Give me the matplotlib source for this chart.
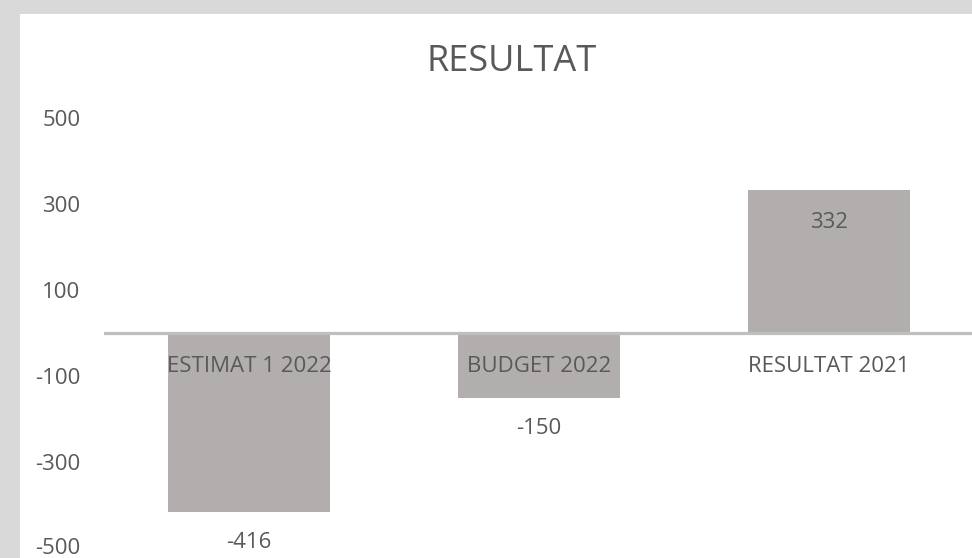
import matplotlib.pyplot as plt

categories = ['ESTIMAT 1 2022', 'BUDGET 2022', 'RESULTAT 2021']
values = [-416, -150, 332]
yticks = [-500, -300, -100, 100, 300, 500]

txt = '#595959'
plt.rcParams['font.family'] = ['Open Sans', 'DejaVu Sans']

fig = plt.figure(figsize=(9.72, 5.58), dpi=100, facecolor='#d9d9d9')
# white chart panel behind the axes
fig.patches.append(plt.Rectangle((20/972, 0), 1, 1 - 14/558, transform=fig.transFigure,
                                 facecolor='white', edgecolor='none', zorder=-5))

ax = fig.add_axes([104/972, 1 - 548/558, 870/972, 430/558])
ax.set_facecolor('none')
x = range(len(categories))
ax.bar(x, values, width=0.56, color='#b3aeae', zorder=1)
ax.axhline(0, color='#bfbfbf', lw=2.3, zorder=2)

ax.set_xlim(-0.5, 2.5)
ax.set_ylim(-500, 500)
ax.set_yticks(yticks)
ax.set_yticklabels([str(t) for t in yticks])
ax.tick_params(axis='y', length=0, pad=17, labelsize=16, labelcolor=txt)
# bottom label sits right at the edge, lift it a little
ax.get_yticklabels()[0].set_va('center')
ax.set_xticks([])
for s in ax.spines.values():
    s.set_visible(False)

for i, (c, v) in enumerate(zip(categories, values)):
    ax.annotate(c, (i, 0), xytext=(0, -24), textcoords='offset points',
                ha='center', va='center', fontsize=16, color=txt, zorder=3,
                annotation_clip=False)
    off = -23 if v > 0 else -22
    ax.annotate(str(v), (i, v), xytext=(0, off), textcoords='offset points',
                ha='center', va='center', fontsize=16, color=txt, zorder=3,
                annotation_clip=False)

fig.text(512/972, 1 - 62/558, 'RESULTAT', ha='center', va='center',
         fontsize=26, color=txt)

fig.savefig('out.png', dpi=100, facecolor=fig.get_facecolor())
